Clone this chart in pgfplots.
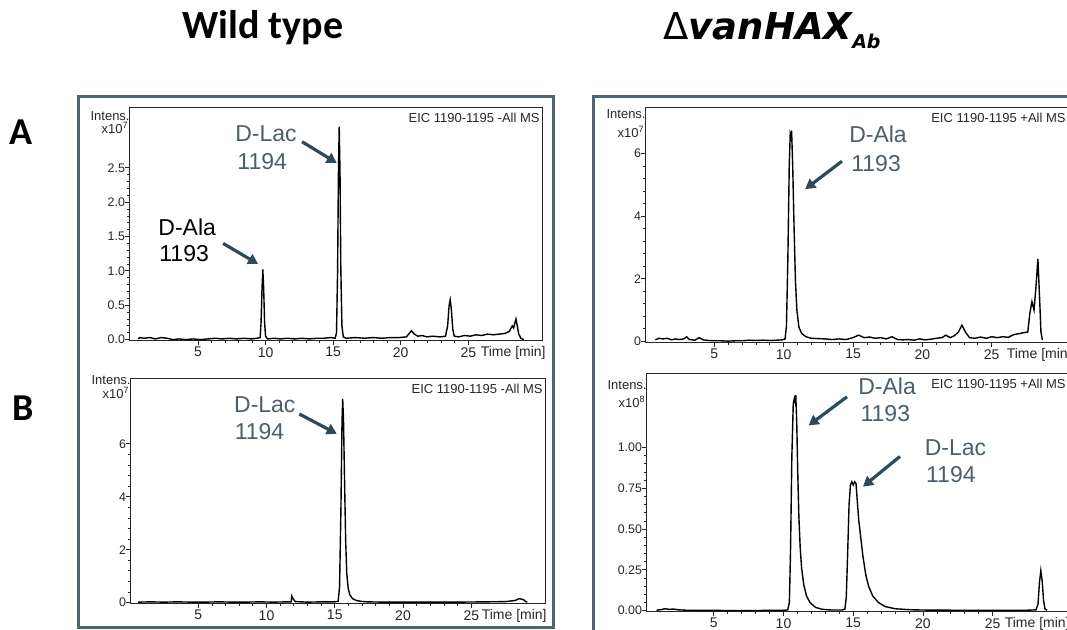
\documentclass[border=0pt]{standalone}
\usepackage{fontspec}
\setmainfont{Liberation Sans}
\newfontfamily\calibri{Carlito}
\newfontfamily\dejavu{DejaVu Sans}
\usepackage{pgfplots}
\pgfplotsset{compat=1.18}
\usetikzlibrary{arrows.meta}

\definecolor{framec}{HTML}{4E6572}
\definecolor{notec}{HTML}{4A5F6B}
\definecolor{arrowc}{HTML}{2E4A58}

\pgfplotsset{
  msaxis/.style={
    scale only axis, anchor=north west, clip=false,
    axis line style={line width=0.5pt, black!85},
    tick style={black!85, line width=0.4pt},
    tick align=outside,
    major tick length=2pt, minor tick length=1pt,
    minor x tick num=4, minor y tick num=4,
    xtick={5,10,15,20,25},
    xtick pos=left, ytick pos=left,
    xticklabel style={font=\fontsize{7}{8}\selectfont, text=black!85, yshift=2.4pt},
    yticklabel style={font=\fontsize{6.2}{7}\selectfont, text=black!85, xshift=3.5pt},
    /pgf/number format/assume math mode=true,
  },
  trace/.style={black, mark=none, line width=0.7pt},
}
\tikzset{
  smalltxt/.style={font=\fontsize{6.5}{7}\selectfont, inner sep=0pt, text=black!85},
  timetxt/.style={anchor=base east, inner sep=0pt, font=\fontsize{7}{8}\selectfont, text=black!85},
  note/.style={font=\fontsize{11.5}{13}\selectfont, inner sep=0pt, anchor=base west, text=notec},
  pointer/.style={arrowc, line width=1.6pt, -{Triangle[length=5pt,width=5.5pt]}},
}

% retention time [min], intensity
\pgfplotstableread{
x y
0.6 0.01
0.68 0.03
1.01 0.02
1.44 0.03
1.86 0.01
2.29 0.03
2.72 0.02
3.15 0.0
3.58 0.01
4.12 0.0
4.65 0.01
5.19 0.0
5.73 0.01
6.26 0.02
6.8 0.01
7.33 0.02
7.87 0.01
8.41 0.02
8.94 0.01
9.37 0.02
9.6 0.03
9.67 0.25
9.74 0.75
9.8 1.02
9.86 0.75
9.93 0.25
10.0 0.05
10.15 0.01
10.66 0.02
11.09 0.01
11.62 0.02
12.16 0.01
12.7 0.02
13.23 0.01
13.77 0.02
14.3 0.02
14.84 0.03
15.15 0.02
15.25 0.1
15.33 1.0
15.39 2.4
15.45 3.10
15.51 2.4
15.57 1.0
15.65 0.2
15.75 0.04
15.95 0.02
16.66 0.03
17.31 0.02
17.95 0.03
18.6 0.02
19.24 0.03
19.88 0.03
20.42 0.04
20.63 0.09
20.79 0.13
21.0 0.08
21.28 0.05
21.6 0.06
21.92 0.04
22.35 0.05
22.9 0.04
23.31 0.05
23.47 0.2
23.58 0.5
23.66 0.58
23.74 0.45
23.85 0.15
23.96 0.05
24.28 0.04
24.71 0.06
25.14 0.05
25.57 0.07
25.99 0.06
26.42 0.08
26.85 0.07
27.28 0.08
27.71 0.09
28.03 0.12
28.25 0.2
28.35 0.17
28.52 0.30
28.62 0.2
28.73 0.08
28.89 0.02
29.1 0.0
}\wtA

\pgfplotstableread{
x y
0.6 0.02
1.5 0.03
2.5 0.02
3.5 0.03
4.5 0.02
5.5 0.02
6.5 0.03
7.5 0.02
8.5 0.02
9.5 0.03
10.5 0.02
11.5 0.03
11.8 0.03
11.85 0.25
11.95 0.15
12.1 0.04
13.0 0.02
14.0 0.03
15.0 0.03
15.25 0.05
15.35 0.6
15.45 3.5
15.53 6.8
15.58 7.7
15.64 6.9
15.72 4.5
15.8 2.3
15.88 1.1
15.98 0.55
16.1 0.3
16.3 0.15
16.6 0.08
16.9 0.05
17.4 0.03
18.5 0.02
20 0.02
22 0.02
24 0.02
26 0.03
27.5 0.04
28.2 0.08
28.5 0.15
28.8 0.12
29.0 0.04
29.1 0.02
}\wtB

\pgfplotstableread{
x y
0.75 0.05
1.0 0.1
1.3 0.08
1.6 0.1
1.9 0.05
2.2 0.08
2.5 0.06
2.8 0.08
3.0 0.15
3.2 0.06
3.6 0.04
3.9 0.12
4.2 0.05
4.6 0.03
5.0 0.02
5.5 0.02
6.0 0.01
6.5 0.02
7.0 0.02
7.5 0.04
8.0 0.03
8.5 0.04
9.0 0.03
9.5 0.04
9.9 0.05
10.1 0.08
10.2 0.5
10.3 2.6
10.4 5.6
10.47 6.6
10.52 6.5
10.57 6.73
10.65 5.6
10.75 3.6
10.85 1.9
10.95 1.0
11.1 0.45
11.3 0.25
11.6 0.15
12.0 0.1
12.5 0.09
13.0 0.08
13.5 0.06
14.0 0.08
14.5 0.06
15.0 0.12
15.4 0.2
15.8 0.12
16.2 0.14
16.6 0.1
17.0 0.12
17.4 0.08
17.8 0.15
18.2 0.06
18.6 0.05
19.0 0.06
19.4 0.04
19.8 0.08
20.2 0.05
20.6 0.07
21.0 0.1
21.4 0.12
21.7 0.2
22.0 0.12
22.3 0.18
22.6 0.3
22.85 0.52
23.1 0.3
23.4 0.12
23.8 0.1
24.2 0.14
24.6 0.1
25.0 0.15
25.4 0.12
25.8 0.15
26.2 0.13
26.6 0.22
27.0 0.25
27.3 0.28
27.6 0.3
27.75 0.9
27.9 1.27
28.05 1.0
28.2 1.8
28.33 2.63
28.45 1.4
28.55 0.3
28.65 0.05
}\mutA

\pgfplotstableread{
x y
0.9 0.003
1.2 0.006
1.5 0.012
1.8 0.008
2.1 0.01
2.5 0.005
3.0 0.003
4 0.002
5 0.002
6 0.001
7 0.001
8 0.001
9 0.002
10 0.002
10.3 0.005
10.42 0.05
10.5 0.35
10.6 0.95
10.7 1.27
10.78 1.30
10.83 1.28
10.88 1.32
10.95 1.15
11.02 0.85
11.1 0.58
11.2 0.38
11.3 0.26
11.45 0.16
11.65 0.09
11.9 0.05
12.3 0.02
12.8 0.008
13.5 0.004
14.2 0.004
14.4 0.01
14.5 0.08
14.6 0.35
14.7 0.65
14.8 0.77
14.9 0.79
15.0 0.77
15.1 0.79
15.2 0.78
15.3 0.66
15.4 0.55
15.55 0.44
15.7 0.33
15.9 0.22
16.1 0.15
16.4 0.09
16.8 0.05
17.3 0.025
18.0 0.012
19 0.006
20 0.004
22 0.003
24 0.002
26 0.002
27.5 0.003
28.1 0.005
28.25 0.04
28.35 0.17
28.45 0.245
28.55 0.18
28.65 0.06
28.75 0.01
28.9 0.003
}\mutB

\begin{document}
\begin{tikzpicture}

% column titles and row letters
\node[anchor=base west, inner sep=0pt, font=\calibri\bfseries\fontsize{20}{22}\selectfont] at (91pt,-19.5pt) {Wild type};
\node[anchor=base west, inner sep=0pt] at (331.5pt,-20pt)
  {{\dejavu\fontsize{18.5}{20}\selectfont Δ}{\dejavu\bfseries\itshape\fontsize{18.5}{20}\selectfont vanHAX\raisebox{-4.5pt}{\fontsize{9.5}{10}\selectfont Ab}}};
\node[anchor=base west, inner sep=0pt, font=\calibri\bfseries\fontsize{19}{20}\selectfont] at (4.5pt,-72.5pt) {A};
\node[anchor=base west, inner sep=0pt, font=\calibri\bfseries\fontsize{19}{20}\selectfont] at (6pt,-210.5pt) {B};

% frames
\draw[framec, line width=1.5pt] (39pt,-48.5pt) rectangle (276.5pt,-314pt);
\draw[framec, line width=1.5pt] (296.5pt,-48.5pt) rectangle (545pt,-325pt);

% wild type, A
\begin{axis}[msaxis, at={(64.5pt,-54pt)}, width=206.5pt, height=116.5pt,
  xmin=-0.1, xmax=30.45, ymin=-0.02, ymax=3.37,
  ytick={0,0.5,1,1.5,2,2.5},
  yticklabel style={/pgf/number format/fixed, /pgf/number format/fixed zerofill, /pgf/number format/precision=1}]
\addplot[trace] table[x=x, y=y] {\wtA};
\node[smalltxt, anchor=east] at (rel axis cs:0,1) [yshift=-4pt, xshift=0.5pt] {Intens.};
\node[smalltxt, anchor=east] at (rel axis cs:0,1) [yshift=-10pt] {x10\textsuperscript{7}};
\node[smalltxt, anchor=north east] at (rel axis cs:1,1) [xshift=-1pt, yshift=-2.5pt] {EIC 1190-1195 -All MS};
\node[timetxt] at (rel axis cs:1,0) [yshift=-7.8pt, xshift=2pt] {Time [min]};
\node[note] at (axis cs:7.74,2.88) {D-Lac};
\node[note] at (axis cs:7.89,2.47) {1194};
\draw[pointer] (axis cs:12.7,2.88) -- (axis cs:15.27,2.57);
\node[note, text=black] at (axis cs:2.05,1.51) {D-Ala};
\node[note, text=black] at (axis cs:2.12,1.13) {1193};
\draw[pointer] (axis cs:6.86,1.40) -- (axis cs:9.45,1.10);
\end{axis}

% wild type, B
\begin{axis}[msaxis, at={(65pt,-189.5pt)}, width=207.5pt, height=112.5pt,
  xmin=0, xmax=30.4, ymin=-0.05, ymax=8.45,
  ytick={0,2,4,6}]
\addplot[trace] table[x=x, y=y] {\wtB};
\node[smalltxt, anchor=east] at (rel axis cs:0,1) [yshift=-0.5pt, xshift=0.5pt] {Intens.};
\node[smalltxt, anchor=east] at (rel axis cs:0,1) [yshift=-7pt] {x10\textsuperscript{7}};
\node[smalltxt, anchor=north east] at (rel axis cs:1,1) [xshift=-1pt, yshift=-2.5pt] {EIC 1190-1195 -All MS};
\node[timetxt] at (rel axis cs:1,0) [yshift=-7.8pt, xshift=1pt] {Time [min]};
\node[note] at (axis cs:7.6,7.2) {D-Lac};
\node[note] at (axis cs:7.65,6.15) {1194};
\draw[pointer] (axis cs:12.4,7.13) -- (axis cs:15.15,6.38);
\end{axis}

% mutant, A
\begin{axis}[msaxis, at={(322.5pt,-54pt)}, width=211.5pt, height=117.5pt,
  xmin=0, xmax=30.5, ymin=-0.05, ymax=7.45,
  ytick={0,2,4,6}]
\addplot[trace] table[x=x, y=y] {\mutA};
\node[smalltxt, anchor=east] at (rel axis cs:0,1) [yshift=-3pt, xshift=0.5pt] {Intens.};
\node[smalltxt, anchor=east] at (rel axis cs:0,1) [yshift=-12pt] {x10\textsuperscript{7}};
\node[smalltxt, anchor=north east] at (rel axis cs:1,1) [xshift=-1pt, yshift=-2.5pt] {EIC 1190-1195 +All MS};
\node[timetxt] at (rel axis cs:1,0) [yshift=-7.8pt, xshift=2pt] {Time [min]};
\node[note] at (axis cs:14.7,6.35) {D-Ala};
\node[note] at (axis cs:14.85,5.43) {1193};
\draw[pointer] (axis cs:14.2,5.75) -- (axis cs:11.55,4.86);
\end{axis}

% mutant, B
\begin{axis}[msaxis, at={(323pt,-187pt)}, width=211pt, height=119pt,
  xmin=0.14, xmax=30.4, ymin=-0.008, ymax=1.45,
  ytick={0,0.25,0.5,0.75,1},
  yticklabel style={/pgf/number format/fixed, /pgf/number format/fixed zerofill, /pgf/number format/precision=2}]
\addplot[trace] table[x=x, y=y] {\mutB};
\node[smalltxt, anchor=east] at (rel axis cs:0,1) [yshift=-5.5pt, xshift=0.5pt] {Intens.};
\node[smalltxt, anchor=east] at (rel axis cs:0,1) [yshift=-14pt] {x10\textsuperscript{8}};
\node[smalltxt, anchor=north east] at (rel axis cs:1,1) [xshift=-1pt, yshift=-2.5pt] {EIC 1190-1195 +All MS};
\node[timetxt] at (rel axis cs:1,0) [yshift=-7.8pt, xshift=1pt] {Time [min]};
\node[note] at (axis cs:15.34,1.327) {D-Ala};
\node[note] at (axis cs:15.5,1.16) {1193};
\draw[pointer] (axis cs:14.55,1.31) -- (axis cs:11.8,1.135);
\node[note] at (axis cs:20.1,0.95) {D-Lac};
\node[note] at (axis cs:20.2,0.785) {1194};
\draw[pointer] (axis cs:18.35,0.945) -- (axis cs:15.7,0.76);
\end{axis}

\pgfresetboundingbox
\path[use as bounding box] (0pt,0pt) rectangle (533.5pt,-315pt);
\end{tikzpicture}
\end{document}
